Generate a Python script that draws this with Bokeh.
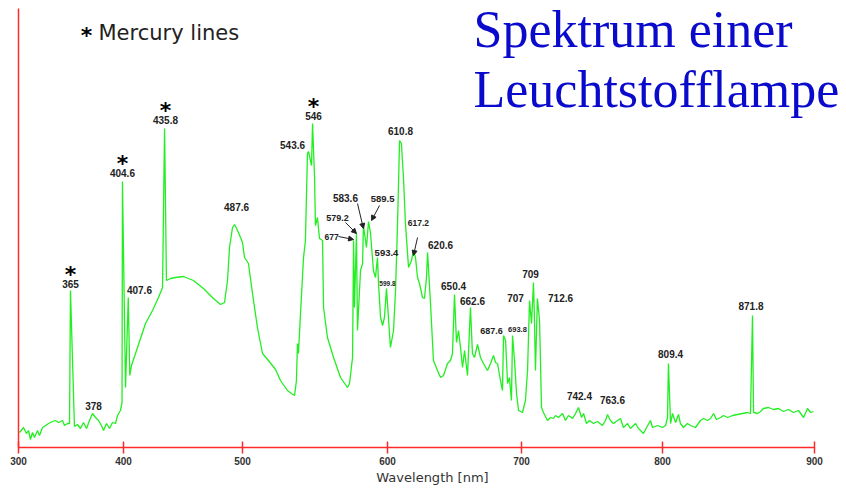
import numpy as np
from bokeh.plotting import figure
from bokeh.models import Range1d, FixedTicker, ColumnDataSource, Label, Arrow, NormalHead
from bokeh.core.properties import value
from bokeh.embed import file_html
from bokeh.resources import INLINE

# Printed wavelength axis (non-linear in the original): tick labels and their place along the axis
AXIS_NM = [300, 400, 500, 600, 700, 800, 900]
AXIS_POS = [0, 105, 224, 369, 503, 644, 796]

# Spectrum: wavelength [nm] (against the printed axis), intensity [a.u.]
wavelength = [
    301.0, 304.8, 307.6, 309.5, 311.4, 313.3, 315.2, 318.1, 320.0, 322.9, 325.7, 328.6, 332.4, 335.2,
    338.1, 341.9, 343.8, 346.7, 348.6, 349.5, 353.3, 356.2, 359.0, 361.9, 364.8, 367.6, 370.5, 373.3,
    376.2, 379.0, 381.0, 383.8, 386.7, 389.5, 392.4, 394.3, 397.1, 398.6, 399.0, 401.7, 404.0, 405.3,
    406.7, 410.1, 414.3, 418.5, 424.4, 429.4, 432.8, 434.5, 436.1, 439.5, 443.7, 450.4, 458.8, 467.2,
    475.6, 481.5, 484.9, 487.4, 489.1, 491.6, 493.3, 496.6, 500.0, 501.4, 504.1, 506.9, 510.3, 513.8,
    517.9, 522.8, 526.2, 531.0, 533.8, 535.9, 537.2, 537.9, 538.6, 540.0, 542.1, 543.4, 544.8, 545.5,
    547.6, 548.3, 549.7, 550.3, 551.7, 553.1, 555.2, 555.9, 558.6, 562.8, 567.6, 572.4, 573.8, 575.9,
    576.6, 577.2, 578.6, 579.3, 581.4, 582.8, 583.4, 585.5, 586.9, 588.3, 590.3, 591.7, 593.1, 593.8,
    595.2, 596.6, 597.9, 599.3, 600.0, 602.2, 604.5, 606.0, 607.5, 609.0, 610.4, 611.9, 613.4, 615.7,
    617.9, 619.4, 620.9, 622.4, 623.9, 626.1, 627.6, 629.1, 629.9, 632.1, 634.3, 637.3, 639.6, 641.8,
    644.8, 647.0, 648.5, 650.0, 651.5, 653.0, 654.5, 656.0, 657.5, 659.7, 661.9, 663.4, 664.9, 667.2,
    669.4, 671.6, 674.6, 676.9, 679.1, 680.6, 682.1, 684.3, 685.8, 686.6, 688.1, 689.6, 691.0, 692.5,
    693.3, 694.8, 696.3, 697.8, 700.7, 702.8, 704.3, 705.7, 707.1, 708.5, 709.2, 709.9, 711.3, 712.8,
    714.2, 715.6, 718.4, 720.6, 722.7, 724.1, 726.2, 729.1, 731.2, 733.3, 736.2, 738.3, 740.4, 742.6,
    744.0, 746.1, 748.2, 751.1, 753.9, 757.4, 759.6, 761.0, 763.1, 765.2, 768.1, 770.2, 772.3, 775.2,
    777.3, 780.9, 783.0, 786.5, 788.7, 791.5, 792.9, 796.5, 800.0, 802.0, 803.3, 803.9, 805.3, 806.6,
    808.6, 810.5, 811.8, 813.8, 816.4, 818.4, 821.7, 825.0, 827.0, 829.6, 831.6, 833.6, 835.5, 838.2,
    840.1, 842.8, 846.1, 849.3, 852.6, 855.9, 857.9, 859.2, 859.9, 862.5, 864.5, 866.4, 869.7, 873.0,
    876.3, 879.6, 882.9, 886.2, 889.5, 892.8, 895.4, 897.4, 899.3,
]
intensity = [
    15, 20, 14, 17, 8, 15, 10, 17, 12, 20, 22, 24, 26, 27,
    25, 27, 22, 24, 24, 157, 21, 23, 19, 25, 19, 27, 34, 30,
    27, 22, 17, 24, 19, 25, 24, 32, 37, 45, 266, 60, 150, 72,
    82, 94, 109, 124, 137, 150, 160, 319, 167, 169, 170, 171, 167, 159,
    149, 143, 145, 167, 200, 220, 223, 215, 205, 190, 184, 154, 120, 94,
    87, 78, 67, 57, 54, 52, 67, 104, 94, 134, 190, 207, 294, 296,
    282, 324, 270, 222, 230, 209, 207, 140, 110, 90, 70, 60, 64, 90,
    207, 140, 214, 117, 177, 184, 222, 200, 226, 214, 177, 170, 190, 164,
    130, 122, 130, 159, 144, 100, 117, 157, 224, 307, 304, 270, 224, 180,
    187, 197, 190, 170, 164, 150, 149, 170, 195, 144, 87, 77, 70, 72,
    84, 87, 94, 153, 105, 117, 100, 80, 97, 72, 140, 94, 90, 103,
    90, 84, 77, 84, 92, 85, 84, 67, 57, 112, 107, 64, 70, 47,
    112, 87, 54, 37, 35, 47, 77, 147, 124, 165, 127, 77, 149, 127,
    40, 35, 27, 30, 29, 32, 30, 34, 27, 32, 29, 34, 40, 30,
    34, 24, 27, 24, 26, 22, 27, 33, 27, 24, 27, 29, 20, 24,
    19, 24, 19, 14, 20, 27, 20, 22, 20, 22, 30, 84, 24, 34,
    25, 33, 24, 20, 24, 22, 20, 27, 29, 27, 29, 34, 28, 30,
    32, 30, 32, 33, 34, 35, 34, 132, 35, 34, 36, 39, 40, 38,
    39, 36, 38, 35, 37, 30, 39, 35, 36,
]
INTENSITY_TOP = 439  # top end of the intensity axis line

# Peak annotations: text, anchor wavelength, anchor intensity, font size
peak_text = ["365", "378", "404.6", "407.6", "435.8", "487.6", "543.6", "546", "610.8",
             "583.6", "589.5", "579.2", "677", "593.4", "599.8", "617.2", "620.6", "650.4",
             "662.6", "687.6", "693.8", "707", "709", "712.6", "742.4", "763.6", "809.4", "871.8"]
peak_nm = [349.5, 371.4, 399.0, 413.4, 435.3, 495.0, 534.5, 549.0, 609.7,
           571.0, 596.6, 565.5, 561.4, 599.3, 600.0, 623.1, 639.6, 649.3,
           663.4, 677.6, 697.0, 695.5, 706.4, 727.7, 741.1, 764.5, 805.3, 858.2]
peak_i = [164, 42, 275, 158, 328, 241, 303, 332, 317,
          250, 249, 230, 211, 195, 164, 225, 203, 162,
          147, 117, 118, 150, 174, 150, 52, 48, 94, 142]
peak_size = ["10px", "10px", "10px", "10px", "10px", "10px", "10px", "10px", "10px",
             "10px", "9.5px", "9px", "8.5px", "9.5px", "6.5px", "8.5px", "10px", "10px",
             "10px", "9px", "7.5px", "10px", "10px", "10px", "10px", "10px", "10px", "10px"]
mercury_lines = ["365", "404.6", "435.8", "546"]

# Arrows pointing from labels to peaks (wavelength, intensity)
arrow_from_nm = [566.2, 571.0, 579.3, 594.5, 622.4]
arrow_from_i = [211, 225, 244, 242, 210]
arrow_to_nm = [576.6, 578.6, 583.4, 589.0, 619.4]
arrow_to_i = [208, 214, 219, 227, 192]


def to_pos(nm):
    return np.interp(nm, AXIS_NM, AXIS_POS)


RED = "#ff2a2a"
GREEN = "#22ee22"
TXT = "#222222"

p = figure(width=846, height=490, output_backend="svg", toolbar_location=None,
           x_range=Range1d(0, 828), y_range=Range1d(0, 447),
           min_border_left=18, min_border_right=0, min_border_top=0, min_border_bottom=43)
p.outline_line_color = None
p.xgrid.visible = False
p.ygrid.visible = False
p.background_fill_color = "white"

xa = p.xaxis[0]
xa.bounds = (AXIS_POS[0], AXIS_POS[-1])
xa.ticker = FixedTicker(ticks=AXIS_POS, minor_ticks=[])
xa.major_label_overrides = {pos: str(nm) for pos, nm in zip(AXIS_POS, AXIS_NM)}
xa.axis_line_color = RED
xa.axis_line_width = 1.5
xa.major_tick_line_color = RED
xa.major_tick_line_width = 1.5
xa.major_tick_in = 6
xa.major_tick_out = 6
xa.major_label_standoff = 3
xa.major_label_text_font = "Liberation Sans"
xa.major_label_text_font_style = "bold"
xa.major_label_text_font_size = "10px"
xa.major_label_text_color = "#333333"
xa.axis_label = "Wavelength [nm]"
xa.axis_label_text_font = "DejaVu Sans"
xa.axis_label_text_font_style = "normal"
xa.axis_label_text_font_size = "13px"
xa.axis_label_text_color = "#333333"
xa.axis_label_standoff = 2

ya = p.yaxis[0]
ya.bounds = (0, INTENSITY_TOP)
ya.ticker = FixedTicker(ticks=[], minor_ticks=[])
ya.axis_line_color = RED
ya.axis_line_width = 1.5
ya.major_tick_out = 0
ya.major_tick_in = 0
ya.major_label_text_font_size = "0px"

p.line(to_pos(wavelength), intensity, line_color=GREEN, line_width=1.3)

lab_src = ColumnDataSource(dict(x=to_pos(peak_nm), y=peak_i, text=peak_text, size=peak_size))
p.text(x="x", y="y", text="text", source=lab_src, text_font=value("Liberation Sans"),
       text_font_style="bold", text_font_size="size", text_color=TXT,
       text_align="center", text_baseline="middle")

hg = [peak_text.index(m) for m in mercury_lines]
star_src = ColumnDataSource(dict(x=to_pos([peak_nm[i] for i in hg]),
                                 y=[peak_i[i] + 9 for i in hg],
                                 text=["*"] * len(hg)))
p.text(x="x", y="y", text="text", source=star_src, text_font=value("DejaVu Sans"),
       text_font_style="bold", text_font_size="22px", text_color="black",
       text_align="center", text_baseline="alphabetic")

arr_src = ColumnDataSource(dict(x0=to_pos(arrow_from_nm), y0=arrow_from_i,
                                x1=to_pos(arrow_to_nm), y1=arrow_to_i))
p.add_layout(Arrow(source=arr_src, x_start="x0", y_start="y0", x_end="x1", y_end="y1",
                   line_color=TXT, line_width=1,
                   end=NormalHead(size=5, fill_color=TXT, line_color=TXT)))

# legend for the mercury star
p.add_layout(Label(x=68, y=412, x_units="screen", y_units="screen", text="*",
                   text_font="DejaVu Sans", text_font_style="bold", text_font_size="22px",
                   text_color="black", text_align="center", text_baseline="alphabetic"))
p.add_layout(Label(x=80, y=415, x_units="screen", y_units="screen", text="Mercury lines",
                   text_font="DejaVu Sans", text_font_size="21px", text_color=TXT,
                   text_align="left", text_baseline="alphabetic"))

# title in two lines
for txt, yy in (("Spektrum einer", 418), ("Leuchtstofflampe", 358)):
    p.add_layout(Label(x=455, y=yy, x_units="screen", y_units="screen", text=txt,
                       text_font="Liberation Serif", text_font_size="52px",
                       text_color="#0a0acc", text_align="left", text_baseline="alphabetic"))

open("out.html", "w").write(file_html(p, INLINE))
